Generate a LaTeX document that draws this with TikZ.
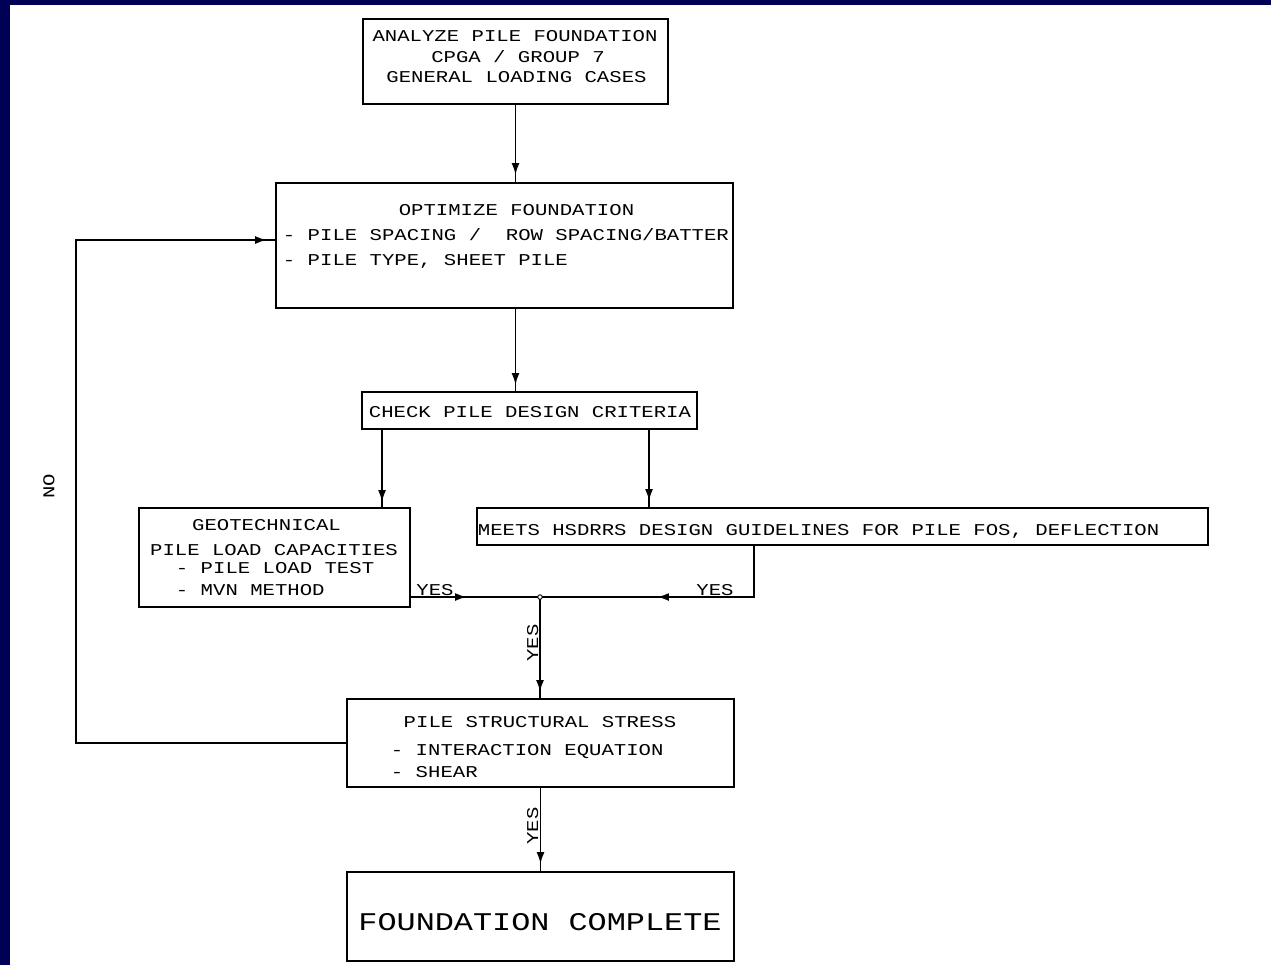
\documentclass[tikz,border=0pt]{standalone}
\usepackage{fontspec}
\newfontfamily\cadfont{Liberation Mono}[FakeStretch=1.25]
\usetikzlibrary{arrows.meta,decorations.markings}

\definecolor{slidenavy}{RGB}{0,0,85}

\tikzset{
  pbox/.style 2 args={draw, minimum width=#1*0.02cm, minimum height=#2*0.02cm, inner sep=0pt},
  txt/.style={inner sep=0pt, font=\cadfont\fontsize{9.4}{11}\selectfont},
  bigtxt/.style={inner sep=0pt, font=\cadfont\fontsize{14.5}{17}\selectfont},
  headat/.style={postaction=decorate, decoration={markings,
      mark=at position #1 with {\arrow{Latex[length=2.4mm,width=1.6mm]}}}},
}

\begin{document}
\begin{tikzpicture}[x=0.02cm, y=-0.02cm, line width=1.1pt]
  \useasboundingbox (0,0) rectangle (1271,965);
  % marco de la diapositiva
  \fill[slidenavy] (0,0) rectangle (1271,965);
  \fill[white] (10,5) rectangle (1271,965);

  % cajas
  \node[pbox={305}{85}] (ana) at (515.5,61.5) {};
  \node[pbox={457}{125}] (opt) at (504.5,245.5) {};
  \node[pbox={335}{37}] (chk) at (529.5,410.5) {};
  \node[pbox={271}{99}] (geo) at (274.5,557.5) {};
  \node[pbox={731}{37}] (mts) at (842.5,526.5) {};
  \node[pbox={387}{88}] (pss) at (540.5,743) {};
  \node[pbox={387}{89}] (fc) at (540.5,916.5) {};

  % textos
  \node[txt, anchor=base] (anaA) at (515,41) {ANALYZE PILE FOUNDATION};
  \node[txt, anchor=base] (anaB) at (518,62) {CPGA / GROUP 7};
  \node[txt, anchor=base] (anaC) at (516.5,82) {GENERAL LOADING CASES};
  \node[txt, anchor=base] (optA) at (516.5,215) {OPTIMIZE FOUNDATION};
  \node[txt, anchor=base west] (optB) at (282,240) {- PILE SPACING /~~ROW SPACING/BATTER};
  \node[txt, anchor=base west] (optC) at (282,265) {- PILE TYPE, SHEET PILE};
  \node[txt, anchor=base] (chkA) at (530,417) {CHECK PILE DESIGN CRITERIA};
  \node[txt, anchor=base] (geoA) at (266.5,530) {GEOTECHNICAL};
  \node[txt, anchor=base] (geoB) at (274,555) {PILE LOAD CAPACITIES};
  \node[txt, anchor=base west] (geoC) at (175,573) {- PILE LOAD TEST};
  \node[txt, anchor=base west] (geoD) at (175,595) {- MVN METHOD};
  \node[txt, anchor=base west] (mtsA) at (477,535) {MEETS HSDRRS DESIGN GUIDELINES FOR PILE FOS, DEFLECTION};
  \node[txt, anchor=base] (pssA) at (540,727) {PILE STRUCTURAL STRESS};
  \node[txt, anchor=base west] (pssB) at (390,755) {- INTERACTION EQUATION};
  \node[txt, anchor=base west] (pssC) at (390,777) {- SHEAR};
  \node[bigtxt, anchor=base] (fcA) at (540,930) {FOUNDATION COMPLETE};

  % conectores
  \coordinate (jn) at (540,597);
  \coordinate (nox) at (76,240);
  \path (chk.south west) ++(21,0) coordinate (chkL) ++(267,0) coordinate (chkR);
  \path (mts.south west) ++(278,0) coordinate (mtsD);

  \draw[headat=-0.14cm] (ana.south) -- (opt.north -| ana.south);
  \draw[headat=-0.12cm] (opt.south -| ana.south) -- (chk.north -| ana.south);
  \draw[headat=-0.1cm] (chkL) -- (chkL |- geo.north);
  \draw[headat=-0.12cm] (chkR) -- (chkR |- mts.north);
  \draw[headat=-1.46cm] (geo.east |- jn) -- (jn);
  \draw[headat=-2.34cm] (mtsD) |- (jn);
  \draw[headat=-0.12cm] (jn) -- (jn |- pss.north);
  \draw[headat=-0.14cm] (pss.south) -- (fc.north);
  \draw[headat=-0.16cm] (pss.west) -| (nox) -- (nox -| opt.west);
  \draw[fill=white, line width=0.5pt] (jn) circle (1.3pt);

  % etiquetas
  \node[txt, anchor=base] (yesL) at (435,595) {YES};
  \node[txt, anchor=base] (yesR) at (715,595) {YES};
  \node[txt, anchor=base, rotate=90] (yesD) at (538,643) {YES};
  \node[txt, anchor=base, rotate=90] (yesF) at (538,826) {YES};
  \node[txt, rotate=90] (no) at (49,486) {NO};
\end{tikzpicture}
\end{document}
